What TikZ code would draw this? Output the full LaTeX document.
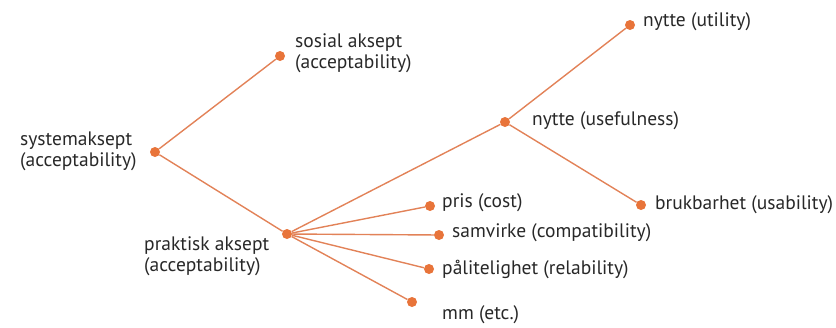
\documentclass[tikz,border=0pt]{standalone}
\usepackage{fontspec}
\setmainfont{PT Sans}
\definecolor{dotorange}{RGB}{232,116,58}
\definecolor{lineorange}{RGB}{226,130,88}
\definecolor{labelgray}{RGB}{40,40,40}
\tikzset{
  dotnode/.style={circle,fill=dotorange,inner sep=0pt,minimum size=10pt},
  branch/.style={draw=lineorange,line width=1.4pt},
  lbl/.style={anchor=west,inner sep=0pt,text=labelgray,align=left,
    font=\fontsize{19.5}{21}\selectfont},
}
\begin{document}
\begin{tikzpicture}[x=1pt,y=-1pt]
\useasboundingbox (0,0) rectangle (836,327);
% branch points
\node[dotnode] (sys) at (155,152) {};
\node[dotnode] (sos) at (280,56) {};
\node[dotnode] (prak) at (287,234) {};
\node[dotnode] (useful) at (505,122) {};
\node[dotnode] (util) at (630,25) {};
\node[dotnode] (usab) at (641,205) {};
\node[dotnode] (pris) at (430,206) {};
\node[dotnode] (samv) at (439,235) {};
\node[dotnode] (palit) at (429,269) {};
\node[dotnode] (mm) at (412,302) {};
% connectors
\draw[branch] (sys) -- (sos);
\draw[branch] (sys) -- (prak);
\draw[branch] (prak) -- (useful);
\draw[branch] (prak) -- (pris);
\draw[branch] (prak) -- (samv);
\draw[branch] (prak) -- (palit);
\draw[branch] (prak) -- (mm);
\draw[branch] (useful) -- (util);
\draw[branch] (useful) -- (usab);
% labels
\node[lbl] (tsys) at (20,151) {systemaksept\\(acceptability)};
\node[lbl] (tsos) at (295,53) {sosial aksept\\(acceptability)};
\node[lbl] (tprak) at (144,256) {praktisk aksept\\(acceptability)};
\node[lbl] (tuseful) at (532,121) {nytte (usefulness)};
\node[lbl] (tutil) at (643,22) {nytte (utility)};
\node[lbl] (tusab) at (655,205) {brukbarhet (usability)};
\node[lbl] (tpris) at (442,203) {pris (cost)};
\node[lbl] (tsamv) at (452,233) {samvirke (compatibility)};
\node[lbl] (tpalit) at (442,269) {pålitelighet (relability)};
\node[lbl] (tmm) at (442,315) {mm (etc.)};
\end{tikzpicture}
\end{document}
